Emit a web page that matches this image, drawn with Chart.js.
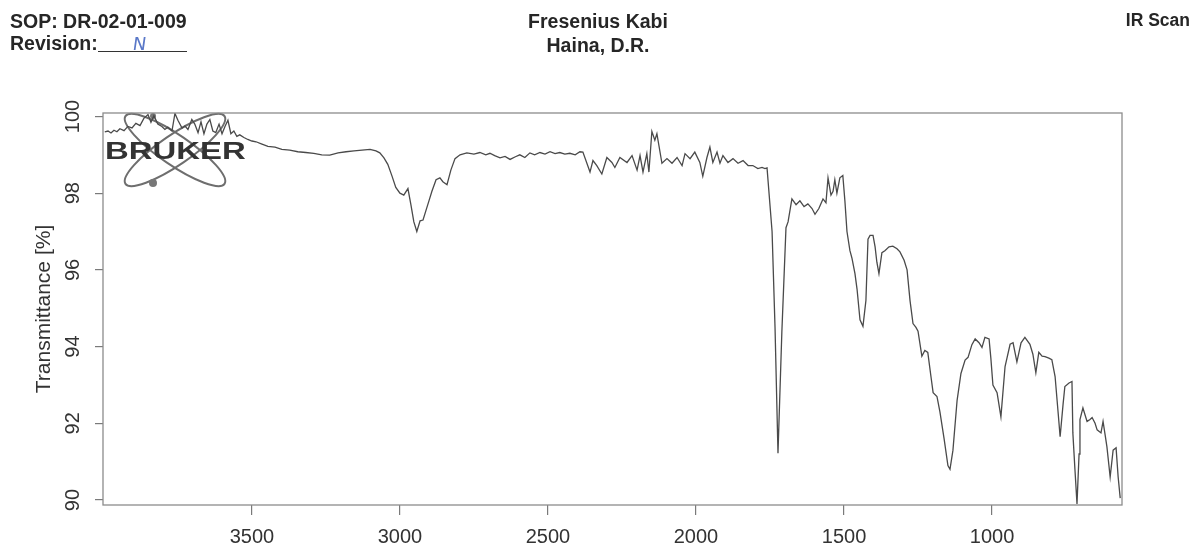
<!DOCTYPE html>
<html>
<head>
<meta charset="utf-8">
<script src="https://cdn.jsdelivr.net/npm/chart.js@4.4.1/dist/chart.umd.min.js"></script>
<style>
  body { margin: 0; background: #fff; }
  #wrap { position: relative; width: 1198px; height: 548px; overflow: hidden; }
  .hdr { position: absolute; font-family: "Liberation Sans", Arial, sans-serif; font-weight: bold; color: #262626; font-size: 19.5px; line-height: 19px; white-space: nowrap; }
  #sop { left: 10px; top: 12px; }
  #rev { left: 10px; top: 34px; }
  #rev .blank { display: inline-block; width: 89px; border-bottom: 1.5px solid #333; text-align: center; height: 17px; vertical-align: baseline; }
  #rev .hand { font-family: "DejaVu Sans", sans-serif; font-weight: normal; color: #5a78c8; font-size: 18px; position: relative; left: -3px; transform: skewX(-8deg); display: inline-block; }
  #org { left: 498px; width: 200px; top: 9px; text-align: center; line-height: 24px; }
  #scan { right: 8px; top: 11px; font-size: 17.5px; }
  canvas { position: absolute; left: 0; top: 0; }
</style>
</head>
<body>
<div id="wrap">
  <canvas id="ir" width="1198" height="548"></canvas>
  <div class="hdr" id="sop">SOP: DR-02-01-009</div>
  <div class="hdr" id="rev">Revision:<span class="blank"><span class="hand">N</span></span></div>
  <div class="hdr" id="org">Fresenius Kabi<br>Haina, D.R.</div>
  <div class="hdr" id="scan">IR Scan</div>
</div>
<script>
// Spectrum (wavenumber in cm-1, transmittance in %)
const wavenumbers = [
  3997, 3986, 3976, 3966, 3956, 3946, 3932, 3919, 3905, 3892, 3878, 3865, 3851, 3841, 3831, 3818,
  3804, 3794, 3784, 3770, 3760, 3750, 3736, 3726, 3716, 3703, 3693, 3682, 3672, 3662, 3652, 3642,
  3632, 3622, 3611, 3601, 3591, 3581, 3571, 3561, 3551, 3541, 3527, 3514, 3500, 3486, 3466, 3446,
  3422, 3399, 3372, 3345, 3318, 3291, 3264, 3237, 3209, 3182, 3155, 3128, 3101, 3081, 3068, 3054,
  3041, 3027, 3014, 3000, 2987, 2973, 2963, 2953, 2943, 2932, 2922, 2912, 2902, 2892, 2878, 2865,
  2855, 2841, 2828, 2814, 2797, 2774, 2750, 2730, 2710, 2696, 2680, 2662, 2645, 2628, 2610, 2595,
  2578, 2561, 2545, 2527, 2510, 2493, 2476, 2460, 2443, 2426, 2408, 2392, 2382, 2358, 2348, 2335,
  2318, 2301, 2284, 2274, 2257, 2233, 2216, 2199, 2189, 2179, 2166, 2159, 2149, 2139, 2132, 2115,
  2098, 2081, 2064, 2047, 2037, 2020, 2004, 1987, 1977, 1963, 1953, 1943, 1929, 1919, 1909, 1892,
  1875, 1858, 1841, 1824, 1808, 1791, 1777, 1767, 1760, 1743, 1733, 1723, 1710, 1696, 1689, 1676,
  1662, 1649, 1635, 1622, 1608, 1598, 1585, 1571, 1561, 1554, 1544, 1537, 1531, 1524, 1514, 1504,
  1497, 1490, 1480, 1473, 1463, 1456, 1446, 1436, 1426, 1419, 1412, 1402, 1395, 1389, 1382, 1372,
  1362, 1348, 1335, 1321, 1311, 1297, 1287, 1277, 1267, 1257, 1250, 1237, 1227, 1217, 1206, 1199,
  1186, 1176, 1162, 1149, 1142, 1132, 1118, 1105, 1091, 1081, 1068, 1057, 1044, 1034, 1024, 1010,
  1004, 997, 983, 970, 956, 939, 929, 916, 902, 889, 872, 862, 852, 842, 831, 821,
  808, 798, 787, 777, 770, 760, 754, 740, 730, 727, 720, 713, 706, 703, 693, 679,
  669, 662, 652, 645, 632, 625, 618, 612, 601, 591, 581, 574, 567
];
const transmittance = [
  99.60, 99.62, 99.57, 99.64, 99.60, 99.68, 99.63, 99.74, 99.70, 99.82, 99.76, 99.95, 100.05, 99.85, 100.02, 99.80,
  99.74, 99.66, 99.72, 99.62, 100.08, 99.90, 99.70, 99.75, 99.66, 99.92, 99.80, 99.58, 99.86, 99.55, 99.80, 99.92,
  99.62, 99.58, 99.80, 99.55, 99.74, 99.90, 99.55, 99.62, 99.48, 99.52, 99.45, 99.40, 99.36, 99.34, 99.28, 99.22,
  99.20, 99.14, 99.12, 99.08, 99.06, 99.04, 99.00, 98.99, 99.05, 99.08, 99.10, 99.12, 99.14, 99.10, 99.05, 98.92,
  98.75, 98.45, 98.15, 98.00, 97.95, 98.12, 97.70, 97.25, 97.00, 97.28, 97.30, 97.55, 97.80, 98.05, 98.35, 98.40,
  98.30, 98.22, 98.60, 98.90, 99.00, 99.05, 99.02, 99.06, 99.00, 99.04, 98.98, 98.92, 98.96, 98.88, 98.95, 99.00,
  98.93, 99.05, 99.00, 99.06, 99.02, 99.08, 99.03, 99.06, 99.02, 99.04, 99.00, 99.08, 99.07, 98.55, 98.85, 98.72,
  98.50, 98.93, 98.80, 98.67, 98.93, 98.80, 98.98, 98.60, 98.98, 98.55, 99.03, 98.55, 99.61, 99.38, 99.55, 98.78,
  98.90, 98.78, 98.93, 98.72, 99.03, 98.90, 99.07, 98.80, 98.44, 98.93, 99.20, 98.80, 99.07, 98.78, 98.98, 98.80,
  98.90, 98.78, 98.85, 98.72, 98.72, 98.64, 98.67, 98.64, 98.66, 97.00, 94.50, 91.22, 94.37, 97.10, 97.25, 97.85,
  97.70, 97.80, 97.65, 97.72, 97.60, 97.45, 97.60, 97.85, 97.75, 98.40, 97.95, 98.05, 98.35, 98.00, 98.40, 98.46,
  97.80, 97.00, 96.50, 96.30, 95.90, 95.50, 94.70, 94.53, 95.20, 96.80, 96.90, 96.90, 96.60, 96.20, 95.90, 96.45,
  96.50, 96.60, 96.62, 96.55, 96.47, 96.25, 96.00, 95.20, 94.60, 94.50, 94.40, 93.75, 93.90, 93.85, 93.20, 92.80,
  92.70, 92.30, 91.60, 90.90, 90.80, 91.30, 92.60, 93.30, 93.65, 93.72, 94.05, 94.20, 94.10, 93.98, 94.24, 94.20,
  93.70, 93.00, 92.80, 92.17, 93.48, 94.06, 94.10, 93.60, 94.10, 94.24, 94.06, 93.80, 93.32, 93.85, 93.75, 93.74,
  93.70, 93.66, 93.22, 92.30, 91.65, 92.50, 92.96, 93.05, 93.09, 91.75, 90.80, 89.90, 91.20, 92.10, 92.40, 92.05,
  92.10, 92.15, 92.00, 91.83, 91.75, 92.05, 91.70, 91.39, 90.60, 91.30, 91.36, 90.60, 90.05
];
const xTicks = [3500, 3000, 2500, 2000, 1500, 1000];
const yTicks = [90, 92, 94, 96, 98, 100];

const points = wavenumbers.map((w, i) => ({ x: w, y: transmittance[i] }));

// box round the plot area
const frame = {
  id: 'frame',
  afterDatasetsDraw(chart) {
    const { ctx, chartArea: a } = chart;
    ctx.save();
    ctx.strokeStyle = '#8c8c8c';
    ctx.lineWidth = 1.3;
    ctx.strokeRect(a.left, a.top, a.right - a.left, a.bottom - a.top);
    ctx.restore();
  }
};

// Bruker watermark in the upper left corner
const logo = {
  id: 'logo',
  beforeDatasetsDraw(chart) {
    const { ctx, chartArea: a } = chart;
    const cx = a.left + 72, cy = a.top + 37;
    ctx.save();
    ctx.strokeStyle = '#6e6e6e';
    ctx.lineWidth = 2;
    [0.6, -0.6].forEach(ang => {
      ctx.beginPath();
      ctx.ellipse(cx, cy, 60, 15, ang, 0, Math.PI * 2);
      ctx.stroke();
    });
    ctx.fillStyle = '#777';
    ctx.beginPath(); ctx.arc(cx - 22, cy + 33, 4, 0, Math.PI * 2); ctx.fill();
    ctx.beginPath(); ctx.arc(cx - 22, cy - 34, 3, 0, Math.PI * 2); ctx.fill();
    ctx.translate(a.left + 2, cy + 9);
    ctx.scale(1.37, 1);
    ctx.font = 'bold 24px "Liberation Sans", Arial, sans-serif';
    ctx.fillStyle = '#333';
    ctx.fillText('BRUKER', 0, 0);
    ctx.restore();
  }
};

const tickFont = { family: '"Liberation Sans", Arial, sans-serif', size: 20 };

new Chart(document.getElementById('ir'), {
  type: 'line',
  data: {
    datasets: [{
      data: points,
      borderColor: '#4a4a4a',
      borderWidth: 1.3,
      pointRadius: 0,
      tension: 0,
      fill: false
    }]
  },
  options: {
    responsive: false,
    animation: false,
    devicePixelRatio: 1,
    layout: { padding: { top: 113, left: 32, right: 76, bottom: 0 } },
    plugins: { legend: { display: false }, tooltip: { enabled: false } },
    scales: {
      x: {
        type: 'linear',
        reverse: true,
        min: 561,
        max: 4003,
        afterBuildTicks: scale => { scale.ticks = xTicks.map(v => ({ value: v })); },
        afterFit: scale => { scale.height = 43; },
        border: { display: false },
        grid: { drawOnChartArea: false, drawTicks: true, tickLength: 10, color: '#7a7a7a', lineWidth: 1.2 },
        ticks: { font: tickFont, color: '#333', padding: 10, maxRotation: 0, autoSkip: false, callback: v => String(v) }
      },
      y: {
        min: 89.87,
        max: 100.09,
        afterBuildTicks: scale => { scale.ticks = yTicks.map(v => ({ value: v })); },
        afterFit: scale => { scale.width = 71; },
        border: { display: false },
        grid: { drawOnChartArea: false, drawTicks: true, tickLength: 8, color: '#7a7a7a', lineWidth: 1.2 },
        ticks: { font: tickFont, color: '#333', padding: 5, minRotation: 90, maxRotation: 90, crossAlign: 'center', autoSkip: false, callback: v => String(v) },
        title: { display: true, text: 'Transmittance [%]', padding: 0, color: '#333', font: { family: '"Liberation Sans", Arial, sans-serif', size: 21 } }
      }
    }
  },
  plugins: [frame, logo]
});
</script>
</body>
</html>
